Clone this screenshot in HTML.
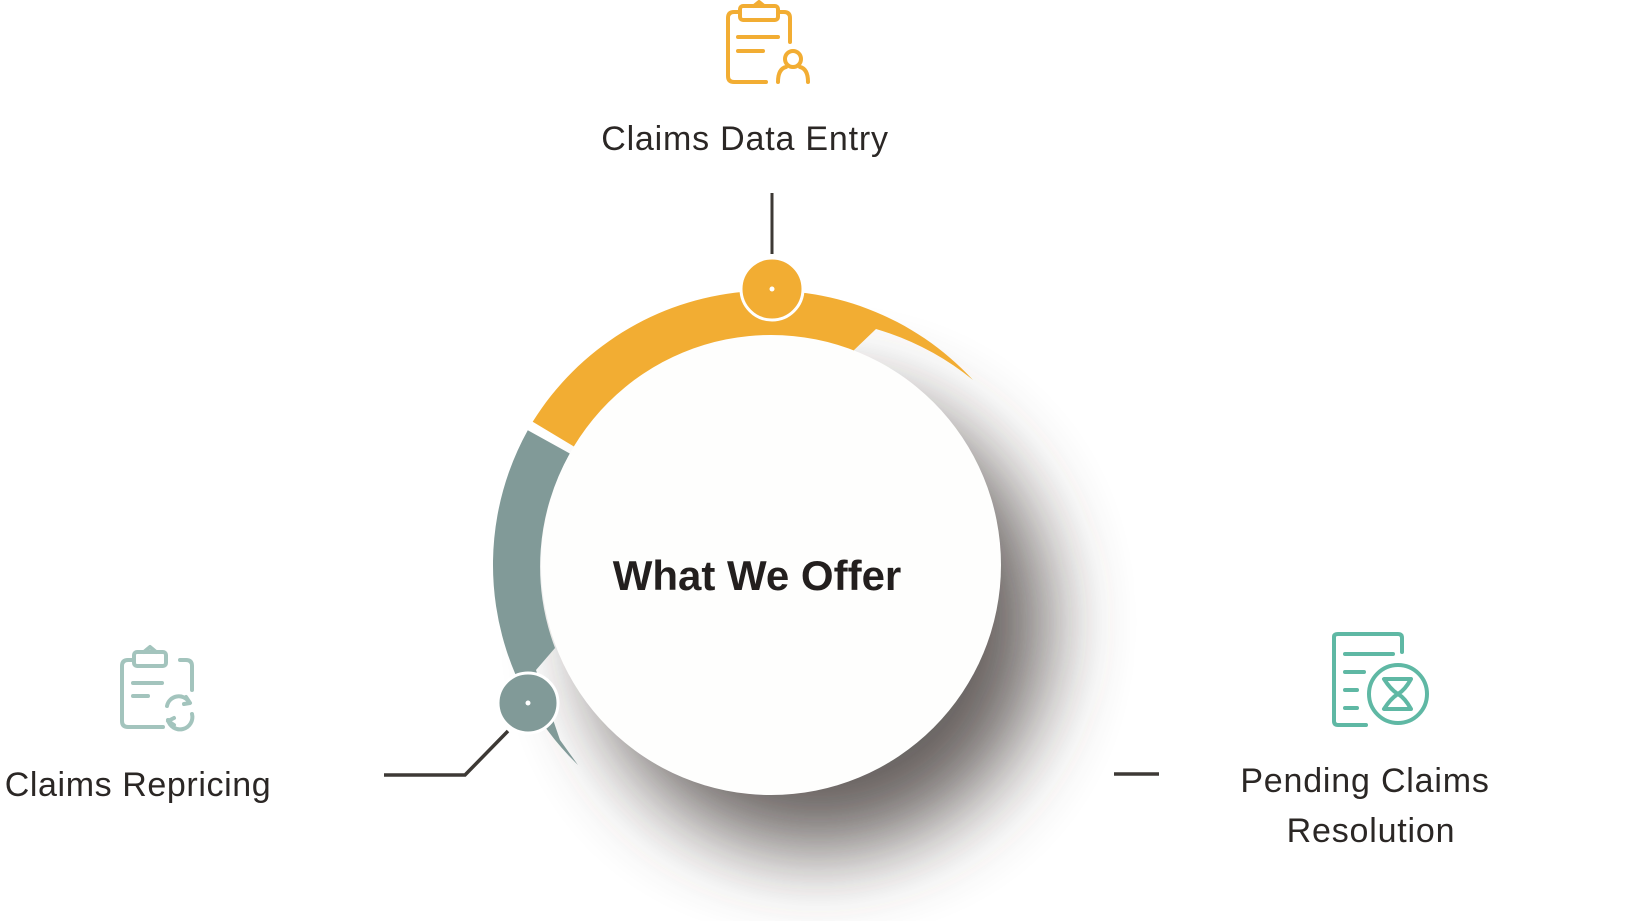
<!DOCTYPE html>
<html><head><meta charset="utf-8"><style>
html,body{margin:0;padding:0;background:#fff;}
svg{display:block;}
text{font-family:"Liberation Sans",sans-serif;}
</style></head><body>
<svg width="1628" height="921" viewBox="0 0 1628 921" xmlns="http://www.w3.org/2000/svg">
<defs>
<filter id="blur" x="-60%" y="-60%" width="220%" height="220%"><feGaussianBlur stdDeviation="42"/></filter>
</defs>
<!-- shadow -->
<circle cx="818" cy="622" r="228" fill="#3f3734" opacity="0.8" filter="url(#blur)"/>
<!-- rings -->
<path d="M532.7,421.8 A278 278 0 0 1 973,380 Q930,345 876,329 L852,352 A230 230 0 0 0 573.9,446.5 Z" fill="#f2ad33"/>
<path d="M578,765 A278 278 0 0 1 527.8,430.2 L569.8,453.5 A230 230 0 0 0 555,648 L536,670 L560,740 Z" fill="#819a98"/>
<!-- main circle -->
<circle cx="771" cy="565" r="230" fill="#fefefd"/>
<text x="757" y="590" font-size="42" font-weight="bold" fill="#231f1e" text-anchor="middle">What We Offer</text>
<!-- connectors -->
<line x1="772" y1="193" x2="772" y2="254" stroke="#3d3935" stroke-width="3"/>
<polyline points="508,731 465,775 384,775" fill="none" stroke="#3d3935" stroke-width="3.5"/>
<line x1="1114" y1="774" x2="1159" y2="774" stroke="#3d3935" stroke-width="3.5"/>
<!-- nodes -->
<circle cx="772" cy="289" r="31" fill="#f2ad33" stroke="#fff" stroke-width="3"/>
<circle cx="772" cy="289" r="2.5" fill="#fff"/>
<circle cx="528" cy="703" r="30" fill="#819a98" stroke="#fff" stroke-width="3"/>
<circle cx="528" cy="703" r="2.5" fill="#fff"/>
<!-- labels -->
<text x="745" y="150" font-size="34" fill="#2b2725" text-anchor="middle" letter-spacing="0.8">Claims Data Entry</text>
<text x="138" y="796" font-size="34" fill="#2b2725" text-anchor="middle" letter-spacing="0.6">Claims Repricing</text>
<text x="1365" y="792" font-size="34" fill="#2b2725" text-anchor="middle" letter-spacing="0.8">Pending Claims</text>
<text x="1371" y="842" font-size="34" fill="#2b2725" text-anchor="middle" letter-spacing="0.8">Resolution</text>
<!-- icon: data entry -->
<g fill="none" stroke="#f2ad33" stroke-width="4" stroke-linecap="round" stroke-linejoin="round">
<path d="M766,82 L734,82 Q728,82 728,76 L728,18 Q728,12 734,12 L740,12"/>
<path d="M778,12 L784,12 Q790,12 790,18 L790,42"/>
<rect x="740" y="6" width="38" height="14" rx="3"/>
<path d="M754,6 L759,2 L764,6"/>
<line x1="738" y1="37" x2="778" y2="37"/>
<line x1="738" y1="51" x2="763" y2="51"/>
<circle cx="793" cy="59" r="8"/>
<path d="M778,82 Q778,69 786,67 M800,67 Q808,69 808,82"/>
</g>
<!-- icon: repricing -->
<g fill="none" stroke="#a3c4bd" stroke-width="4" stroke-linecap="round" stroke-linejoin="round">
<path d="M163,727 L128,727 Q122,727 122,721 L122,666 Q122,660 128,660 L134,660"/>
<path d="M180,660 L186,660 Q192,660 192,666 L192,690"/>
<rect x="134" y="652" width="32" height="14" rx="3"/>
<path d="M144,652 L150,647 L156,652"/>
<line x1="133" y1="683" x2="162" y2="683"/>
<line x1="133" y1="696" x2="148" y2="696"/>
<path d="M189,702 A12 12 0 0 0 167,706"/>
<path d="M168,720 A12 12 0 0 0 192,714"/>
<path d="M186,697 L190,703 L184,704"/>
<path d="M174,725 L168,721 L174,718"/>
</g>
<!-- icon: pending -->
<g fill="none" stroke="#5fb8a4" stroke-width="4" stroke-linecap="round" stroke-linejoin="round">
<path d="M1366,725 L1338,725 Q1334,725 1334,721 L1334,637 Q1334,634 1338,634 L1398,634 Q1402,634 1402,638 L1402,652"/>
<line x1="1345" y1="654" x2="1393" y2="654"/>
<line x1="1345" y1="672" x2="1364" y2="672"/>
<line x1="1345" y1="690" x2="1357" y2="690"/>
<line x1="1345" y1="708" x2="1357" y2="708"/>
<circle cx="1398" cy="694" r="29"/>
<path d="M1384,679 L1411,679 Q1405,690 1398,694 Q1391,698 1384,709 L1411,709 Q1405,698 1398,694 Q1391,690 1384,679 Z"/>
</g>
</svg>
</body></html>
